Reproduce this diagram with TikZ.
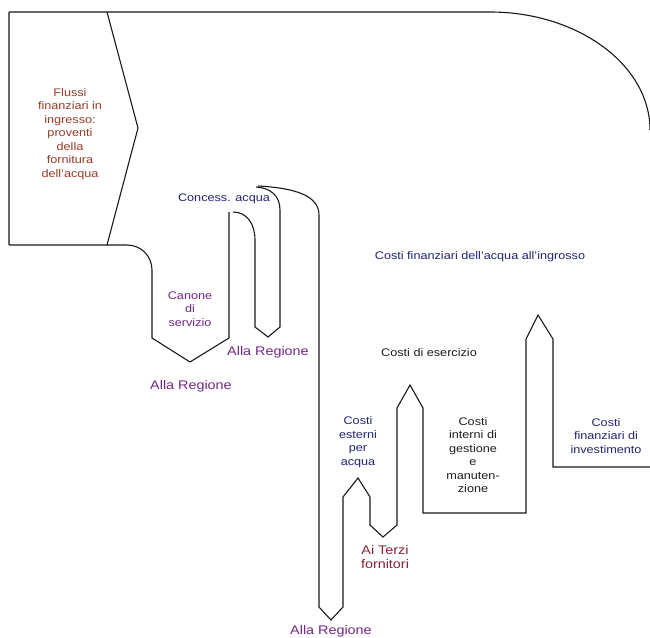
\documentclass[tikz,border=0pt]{standalone}
\usepackage{fontspec}
\setmainfont{Liberation Sans}[FakeStretch=1.15]
\begin{document}
\definecolor{brick}{RGB}{150,60,40}
\definecolor{navy}{RGB}{35,35,115}
\definecolor{plum}{RGB}{115,40,135}
\definecolor{maroon}{RGB}{135,35,55}
\definecolor{ink}{RGB}{30,30,30}
\definecolor{edge}{RGB}{25,25,25}
\begin{tikzpicture}[x=1pt,y=-1pt,
  flow/.style={draw=edge,line width=1.1pt,line join=miter},
  lbl/.style={align=center,inner sep=0pt,font=\fontsize{11}{13.5}\selectfont},
  big/.style={align=center,inner sep=0pt,font=\fontsize{12.5}{14}\selectfont}]
\useasboundingbox (0,0) rectangle (650,637);
\fill[white] (0,0) rectangle (650,637);

% incoming block, top band and the large right-hand bend
\draw[flow,draw=gray!80!black,line width=1.4pt] (9,245) -- (9,12);
\draw[flow] (9,12) -- (490,12) .. controls (578,12) and (650,65) .. (650,130);
\draw[flow] (107,12) -- (138,128) -- (107,245);

% lower edge: canone branch, concession branch
\draw[flow] (9,245) -- (127,245) .. controls (141,245) and (152,256) .. (152,270)
  -- (152,338) -- (190,362) -- (229,338) -- (229,212);
\draw[flow] (233,212) .. controls (247,212) and (255,224) .. (255,240)
  -- (255,327) -- (268,337) -- (280,327) -- (280,210)
  .. controls (280,196) and (271,188) .. (256,187);

% cost branches down to the right
\draw[flow] (258,186) .. controls (296,188) and (319,196) .. (319,215)
  -- (319,607) -- (331,620) -- (343,607)
  -- (343,497) -- (358,478) -- (370,497)
  -- (370,525) -- (383,537) -- (397,525)
  -- (397,408) -- (410,385) -- (423,408)
  -- (423,513) -- (526,513)
  -- (526,339) -- (538,315) -- (553,339)
  -- (553,467) -- (650,467);

% labels
\node[lbl,text=brick] (flussi) at (70,134) {Flussi\\finanziari in\\ingresso:\\proventi\\della\\fornitura\\dell'acqua};
\node[lbl,text=navy] (concess) at (224,199) {Concess. acqua};
\node[lbl,text=plum] (canone) at (190,309) {Canone\\di\\servizio};
\node[big,text=plum] (regioneA) at (191,386) {Alla Regione};
\node[big,text=plum] (regioneB) at (268,352) {Alla Regione};
\node[lbl,text=navy] (ingrosso) at (480,257) {Costi finanziari dell'acqua all'ingrosso};
\node[lbl,text=ink] (esercizio) at (429,353) {Costi di esercizio};
\node[lbl,text=navy] (esterni) at (358,442) {Costi\\esterni\\per\\acqua};
\node[lbl,text=ink] (interni) at (473,455) {Costi\\interni di\\gestione\\e\\manuten-\\zione};
\node[lbl,text=navy] (invest) at (606,436) {Costi\\finanziari di\\investimento};
\node[big,text=maroon] (terzi) at (385,557) {Ai Terzi\\fornitori};
\node[big,text=plum] (regioneC) at (331,631) {Alla Regione};
\end{tikzpicture}
\end{document}
